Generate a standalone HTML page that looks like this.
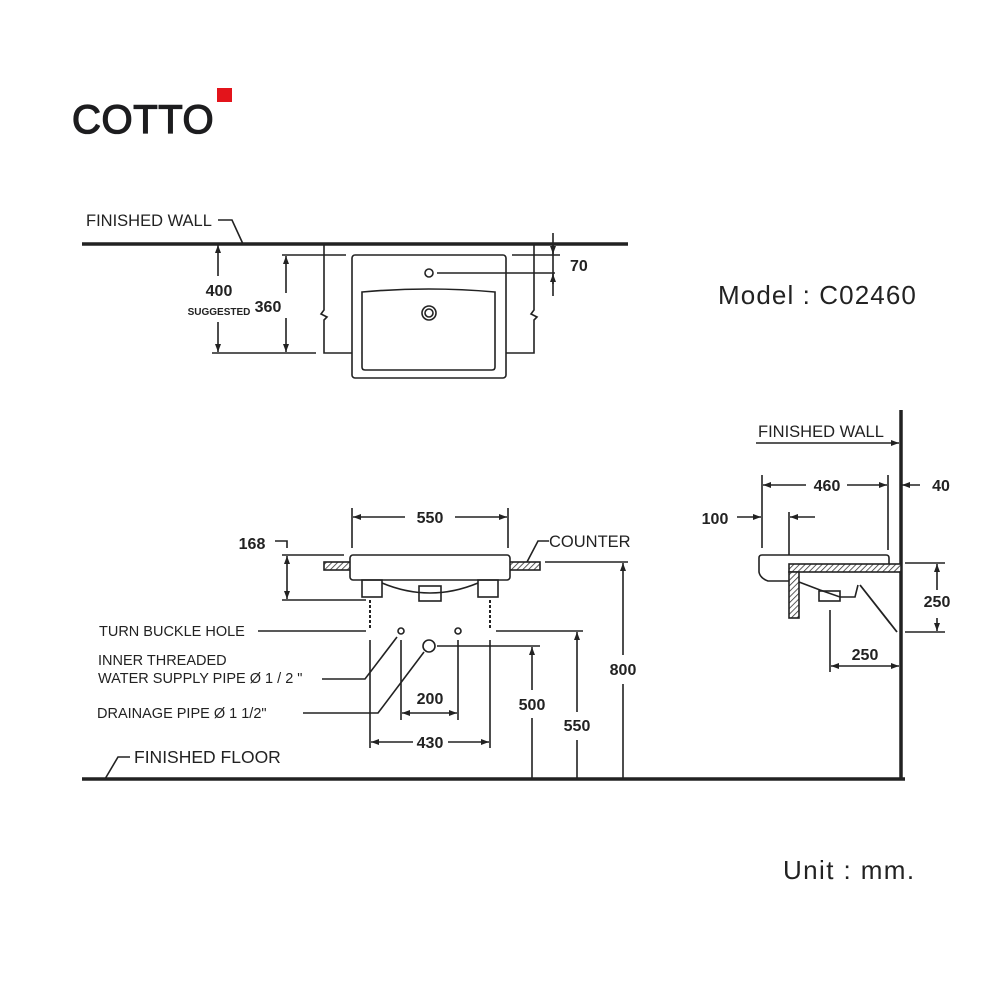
<!DOCTYPE html>
<html><head><meta charset="utf-8"><style>
html,body{margin:0;padding:0;background:#fff;}
svg{display:block}
text{font-family:"Liberation Sans",sans-serif;fill:#222}
</style></head><body>
<svg width="1000" height="1000" viewBox="0 0 1000 1000" xmlns="http://www.w3.org/2000/svg">
<defs>
<pattern id="h" width="4" height="4" patternUnits="userSpaceOnUse" patternTransform="rotate(45)"><rect width="4" height="4" fill="#fff"/><line x1="0" y1="0" x2="0" y2="4" stroke="#333" stroke-width="1.6"/></pattern>
<marker id="a" markerWidth="8" markerHeight="6" refX="8" refY="3" orient="auto-start-reverse" markerUnits="userSpaceOnUse"><path d="M0,0 L8,3 L0,6 Z" fill="#222"/></marker>
</defs>
<!-- logo -->
<text x="72" y="133" font-size="40" style="fill:#1d1d1f;stroke:#1d1d1f;stroke-width:1.3px;letter-spacing:0.6px">COTTO</text>
<rect x="217" y="88" width="15" height="14" fill="#e3141b"/>
<text x="718" y="304" font-size="26" style="letter-spacing:1.1px">Model : C02460</text>
<text x="783" y="879" font-size="26" style="letter-spacing:1.4px">Unit : mm.</text>

<g stroke="#222" fill="none" stroke-width="1.6" font-weight="bold">
<!-- TOP VIEW -->
<line x1="82" y1="244" x2="628" y2="244" stroke-width="3.5"/>
<polyline points="218,220 232,220 243,244"/>
<rect x="352" y="255" width="154" height="123" rx="3"/>
<path d="M362,292 Q429,286 495,292 L495,367 Q495,370 492,370 L365,370 Q362,370 362,367 Z"/>
<circle cx="429" cy="273" r="4"/>
<circle cx="429" cy="313" r="7"/><circle cx="429" cy="313" r="4"/>
<line x1="437" y1="273" x2="555" y2="273"/>
<line x1="512" y1="255" x2="560" y2="255"/>
<line x1="553" y1="233" x2="553" y2="296"/>
<line x1="553" y1="244" x2="553" y2="254" marker-end="url(#a)"/>
<line x1="553" y1="284" x2="553" y2="274" marker-end="url(#a)"/>
<polyline points="324,244 324,310 321,314 327,317 324,320 324,353 352,353"/>
<polyline points="534,244 534,310 531,314 537,317 534,320 534,353 506,353"/>
<line x1="282" y1="255" x2="346" y2="255"/>
<line x1="212" y1="353" x2="316" y2="353"/>
<line x1="286" y1="256" x2="286" y2="293" marker-start="url(#a)"/>
<line x1="286" y1="318" x2="286" y2="352" marker-end="url(#a)"/>
<line x1="218" y1="245" x2="218" y2="276" marker-start="url(#a)"/>
<line x1="218" y1="322" x2="218" y2="352" marker-end="url(#a)"/>

<!-- FRONT VIEW -->
<rect x="324" y="562" width="28" height="8" fill="url(#h)"/>
<rect x="508" y="562" width="32" height="8" fill="url(#h)"/>
<rect x="350" y="555" width="160" height="25" rx="3" fill="#fff"/>
<path d="M382,583 Q430,603 478,583"/>
<rect x="362" y="580" width="20" height="17"/>
<rect x="478" y="580" width="20" height="17"/>
<rect x="419" y="586" width="22" height="15"/>
<line x1="352" y1="508" x2="352" y2="548"/>
<line x1="508" y1="508" x2="508" y2="548"/>
<line x1="353" y1="517" x2="405" y2="517" marker-start="url(#a)"/>
<line x1="455" y1="517" x2="507" y2="517" marker-end="url(#a)"/>
<polyline points="275,541 287,541 287,548"/>
<line x1="282" y1="555" x2="344" y2="555"/>
<line x1="282" y1="600" x2="366" y2="600"/>
<line x1="287" y1="556" x2="287" y2="599" marker-start="url(#a)" marker-end="url(#a)"/>
<line x1="370" y1="600" x2="370" y2="630" stroke-dasharray="3,2" stroke-width="2"/>
<line x1="490" y1="600" x2="490" y2="630" stroke-dasharray="3,2" stroke-width="2"/>
<line x1="258" y1="631" x2="366" y2="631"/>
<circle cx="401" cy="631" r="3"/><circle cx="458" cy="631" r="3"/>
<circle cx="429" cy="646" r="6"/>
<line x1="437" y1="646" x2="540" y2="646"/>
<line x1="496" y1="631" x2="583" y2="631"/>
<line x1="545" y1="562" x2="628" y2="562"/>
<line x1="370" y1="640" x2="370" y2="748"/>
<line x1="490" y1="640" x2="490" y2="748"/>
<line x1="401" y1="640" x2="401" y2="720"/>
<line x1="458" y1="640" x2="458" y2="720"/>
<line x1="371" y1="742" x2="413" y2="742" marker-start="url(#a)"/>
<line x1="448" y1="742" x2="489" y2="742" marker-end="url(#a)"/>
<line x1="402" y1="713" x2="457" y2="713" marker-start="url(#a)" marker-end="url(#a)"/>
<polyline points="322,679 365,679 397,637"/>
<polyline points="303,713 378,713 424,652"/>
<line x1="532" y1="647" x2="532" y2="690" marker-start="url(#a)"/>
<line x1="532" y1="718" x2="532" y2="778"/>
<line x1="577" y1="632" x2="577" y2="712" marker-start="url(#a)"/>
<line x1="577" y1="740" x2="577" y2="778"/>
<line x1="623" y1="563" x2="623" y2="655" marker-start="url(#a)"/>
<line x1="623" y1="684" x2="623" y2="778"/>
<line x1="82" y1="779" x2="905" y2="779" stroke-width="3.5"/>
<polyline points="130,757 118,757 105,779"/>

<!-- SIDE VIEW -->
<line x1="901" y1="410" x2="901" y2="780" stroke-width="3.5"/>
<line x1="756" y1="443" x2="899" y2="443" marker-end="url(#a)"/>
<line x1="762" y1="475" x2="762" y2="548"/>
<line x1="888" y1="475" x2="888" y2="550"/>
<line x1="763" y1="485" x2="806" y2="485" marker-start="url(#a)"/>
<line x1="847" y1="485" x2="887" y2="485" marker-end="url(#a)"/>
<line x1="920" y1="485" x2="902" y2="485" marker-end="url(#a)"/>
<line x1="737" y1="517" x2="761" y2="517" marker-end="url(#a)"/>
<line x1="789" y1="512" x2="789" y2="555"/>
<line x1="815" y1="517" x2="790" y2="517" marker-end="url(#a)"/>
<path d="M762,555 L886,555 Q889,555 889,558 L889,564" fill="#fff"/>
<path d="M762,555 Q759,555 759,558 L759,572 Q760,578 768,581 L780,581 L789,581"/>
<rect x="789" y="564" width="112" height="8" fill="url(#h)"/>
<rect x="789" y="572" width="10" height="46" fill="url(#h)"/>
<path d="M799,582 L820,590 L840,597 L855,597 L858,585"/>
<rect x="819" y="591" width="21" height="10"/>
<line x1="860" y1="585" x2="897" y2="632" stroke-width="1.8"/>
<line x1="905" y1="563" x2="945" y2="563"/>
<line x1="905" y1="632" x2="945" y2="632"/>
<line x1="937" y1="564" x2="937" y2="590" marker-start="url(#a)"/>
<line x1="937" y1="618" x2="937" y2="631" marker-end="url(#a)"/>
<line x1="830" y1="610" x2="830" y2="672"/>
<line x1="831" y1="666" x2="899" y2="666" marker-start="url(#a)" marker-end="url(#a)"/>
</g>

<g font-weight="bold" text-anchor="middle">
<text x="430" y="523" font-size="16">550</text>
<text x="430" y="704" font-size="16">200</text>
<text x="430" y="748" font-size="16">430</text>
<text x="532" y="710" font-size="16">500</text>
<text x="577" y="731" font-size="16">550</text>
<text x="623" y="675" font-size="16">800</text>
<text x="219" y="296" font-size="16">400</text>
<text x="219" y="315" font-size="10">SUGGESTED</text>
<text x="268" y="312" font-size="16">360</text>
<text x="252" y="549" font-size="16">168</text>
<text x="827" y="491" font-size="16">460</text>
<text x="941" y="491" font-size="16">40</text>
<text x="715" y="524" font-size="16">100</text>
<text x="937" y="607" font-size="16">250</text>
<text x="865" y="660" font-size="16">250</text>
</g>
<g font-size="16.5">
<text x="570" y="271" font-weight="bold" font-size="16">70</text>
<text x="86" y="226">FINISHED WALL</text>
<text x="549" y="547">COUNTER</text>
<text x="758" y="437">FINISHED WALL</text>
<text x="134" y="763" font-size="17.5">FINISHED FLOOR</text>
<text x="99" y="636" font-size="14.5">TURN BUCKLE HOLE</text>
<text x="98" y="665" font-size="14.5">INNER THREADED</text>
<text x="98" y="683" font-size="14.5">WATER SUPPLY PIPE Ø 1 / 2 "</text>
<text x="97" y="718" font-size="14.5">DRAINAGE PIPE Ø 1 1/2"</text>
</g>
<polyline points="549,541 538,541 527,562" fill="none" stroke="#222" stroke-width="1.6"/>
</svg>
</body></html>
